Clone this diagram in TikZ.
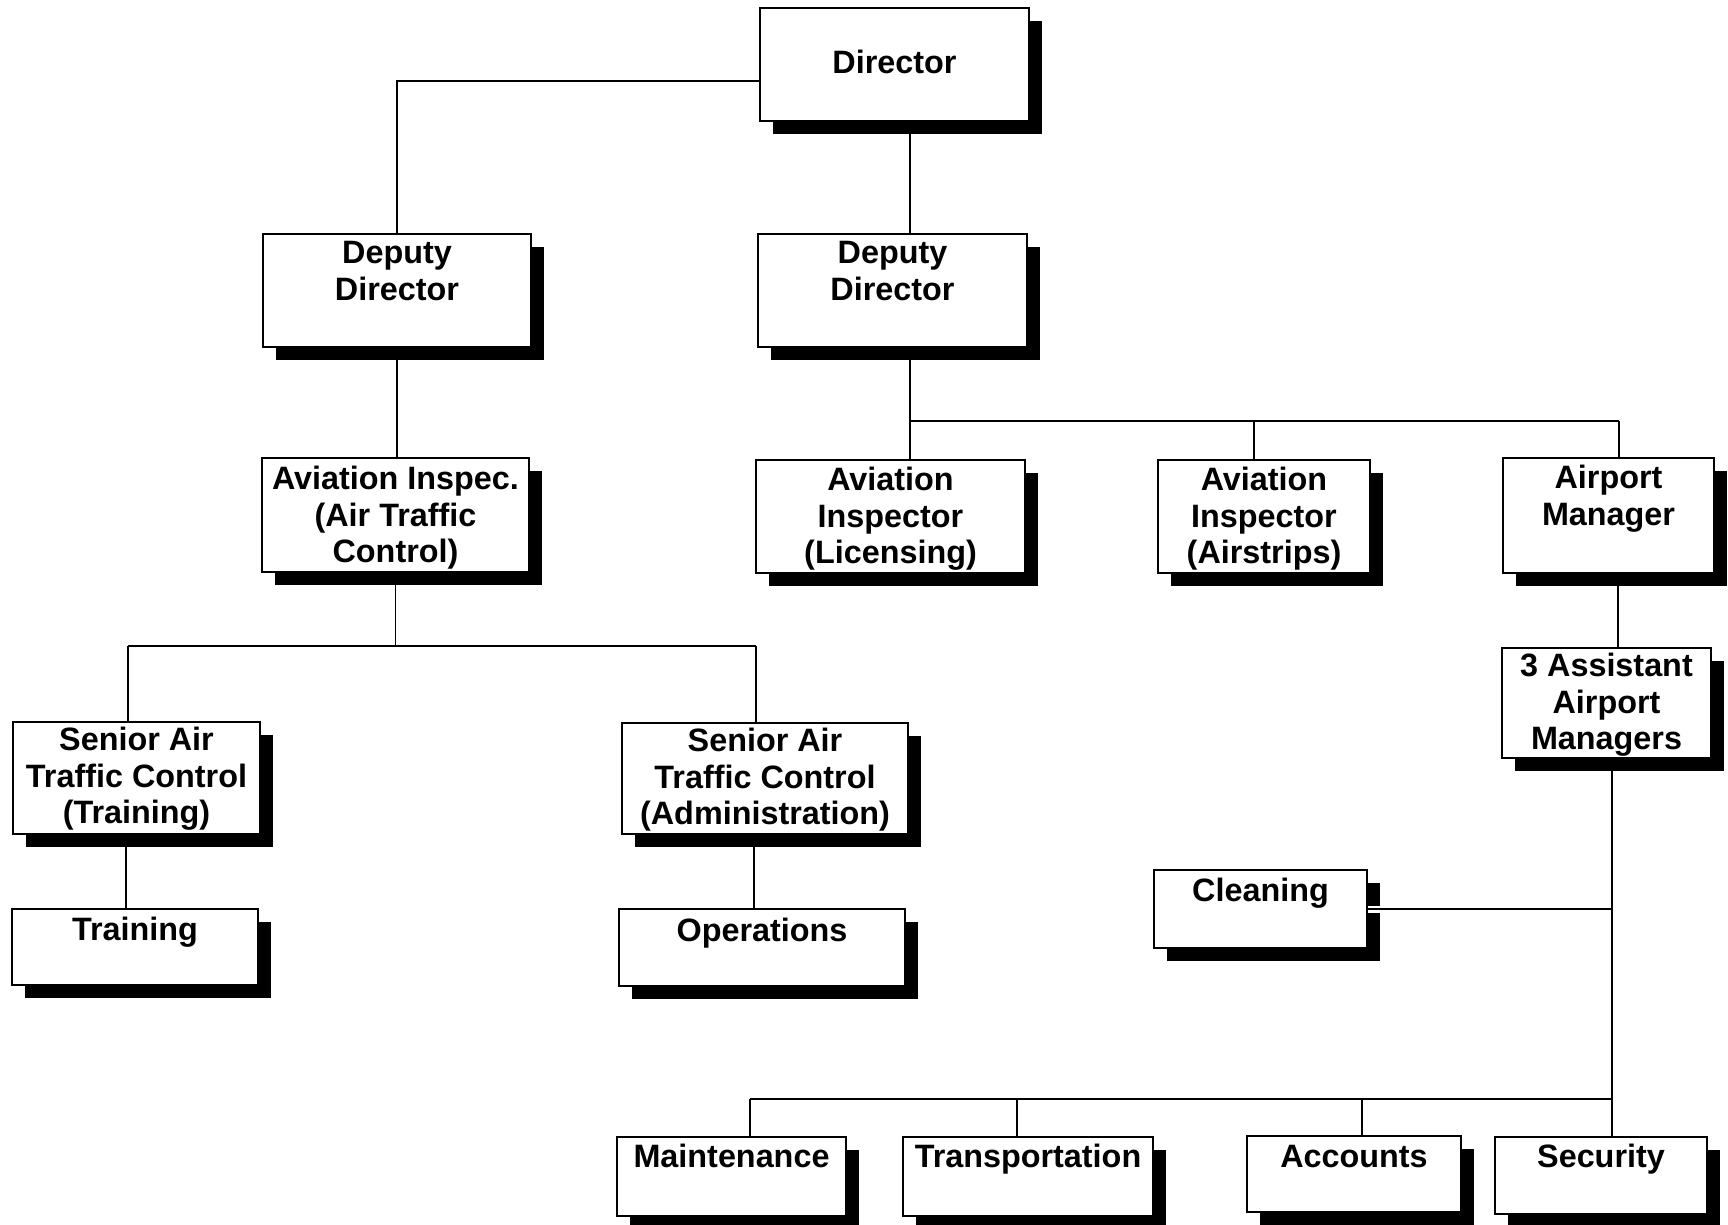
\documentclass[tikz,border=0pt]{standalone}
\usepackage{fontspec}
\setmainfont{Liberation Sans}
\usetikzlibrary{fit,calc,backgrounds}

% #1 name, #2 top-left corner, #3 bottom-right corner, #4 text drop (px), #5 text
\newcommand\orgbox[5]{%
  \fill[black] ($#2+(13,13)$) rectangle ($#3+(13,13)$);
  \node[boxframe, fit={#2 #3}] (#1) {};
  \node[boxtext, yshift=-#4*0.01cm] (#1-t) at (#1.north) {#5};
}

\begin{document}
\begin{tikzpicture}[x=0.01cm, y=-0.01cm,
  boxframe/.style={draw=black, line width=0.6pt, fill=white, inner sep=0pt},
  boxtext/.style={align=center, anchor=north, inner sep=0pt,
    font=\bfseries\fontsize{9.2}{10.5}\selectfont},
  link/.style={draw=black, line width=0.5pt}]

\useasboundingbox (0,0) rectangle (1728,1224);
\clip (0,0) rectangle (1728,1224);

% top levels
\orgbox{dir}{(760,8)}{(1029,121)}{42}{Director}
\orgbox{depL}{(263,234)}{(531,347)}{8}{Deputy\\Director}
\orgbox{depR}{(758,234)}{(1027,347)}{8}{Deputy\\Director}

% inspectors and airport manager
\orgbox{atc}{(262,458)}{(529,572)}{8}{Aviation Inspec.\\(Air Traffic\\Control)}
\orgbox{lic}{(756,460)}{(1025,573)}{7}{Aviation\\Inspector\\(Licensing)}
\orgbox{strip}{(1158,460)}{(1370,573)}{7}{Aviation\\Inspector\\(Airstrips)}
\orgbox{apm}{(1503,458)}{(1714,573)}{7}{Airport\\Manager}

% air traffic control branch
\orgbox{sTr}{(13,722)}{(260,834)}{5}{Senior Air\\Traffic Control\\(Training)}
\orgbox{sAd}{(622,723)}{(908,834)}{5}{Senior Air\\Traffic Control\\(Administration)}
\orgbox{tr}{(12,909)}{(258,985)}{8}{Training}
\orgbox{ops}{(619,909)}{(905,986)}{9}{Operations}

% airport branch
\orgbox{aam}{(1502,648)}{(1711,758)}{5}{3 Assistant\\Airport\\Managers}
\orgbox{cln}{(1154,870)}{(1367,948)}{8}{Cleaning}
\orgbox{mnt}{(617,1137)}{(846,1216)}{7}{Maintenance}
\orgbox{trn}{(903,1137)}{(1153,1216)}{7}{Transportation}
\orgbox{acc}{(1247,1136)}{(1461,1212)}{10}{Accounts}
\orgbox{sec}{(1495,1137)}{(1707,1214)}{7}{Security}

% junction points of the connector lines
\coordinate (cR) at (910,0);
\coordinate (h1w) at (910,421);
\coordinate (h1m) at (1254,421);
\coordinate (h1e) at (1619,421);
\coordinate (cA) at (1618,0);
\coordinate (h2w) at (128,646);
\coordinate (h2e) at (756,646);
\coordinate (cT) at (126,0);
\coordinate (cO) at (754,0);
\coordinate (h3w) at (750,1099);
\coordinate (h3a) at (1017,1099);
\coordinate (h3b) at (1362,1099);
\coordinate (h3e) at (1612,1099);

% cleaning line crosses its box shadow
\draw[white, line width=2pt] (cln.east) -- ++(16,0);
\draw[link] (cln.east) -- (cln.east -| h3e);

\begin{scope}[on background layer]
  \fill[white] (0,0) rectangle (1728,1224);
  \draw[link] (dir.north west) ++(0,74) -| (depL.north);
  \draw[link] (cR |- dir.south) -- (cR |- depR.north);
  \draw[link] (cR |- depR.south) -- (cR |- lic.north);
  \draw[link] (h1w) -- (h1e);
  \draw[link] (h1m) -- (h1m |- strip.north);
  \draw[link] (h1e) -- (h1e |- apm.north);
  \draw[link] (cA |- apm.south) -- (cA |- aam.north);
  \draw[link] (h3e |- aam.south) -- (h3e);
  \draw[link] (h3w) -- (h3e);
  \draw[link] (h3w) -- (h3w |- mnt.north);
  \draw[link] (h3a) -- (h3a |- trn.north);
  \draw[link] (h3b) -- (h3b |- acc.north);
  \draw[link] (h3e) -- (h3e |- sec.north);
  \draw[link] (depL.south) -- (depL.south |- atc.north);
  \draw[link] (atc.south) -- (atc.south |- h2w);
  \draw[link] (h2w) -- (h2e);
  \draw[link] (h2w) -- (h2w |- sTr.north);
  \draw[link] (h2e) -- (h2e |- sAd.north);
  \draw[link] (cT |- sTr.south) -- (cT |- tr.north);
  \draw[link] (cO |- sAd.south) -- (cO |- ops.north);
\end{scope}
\end{tikzpicture}
\end{document}
